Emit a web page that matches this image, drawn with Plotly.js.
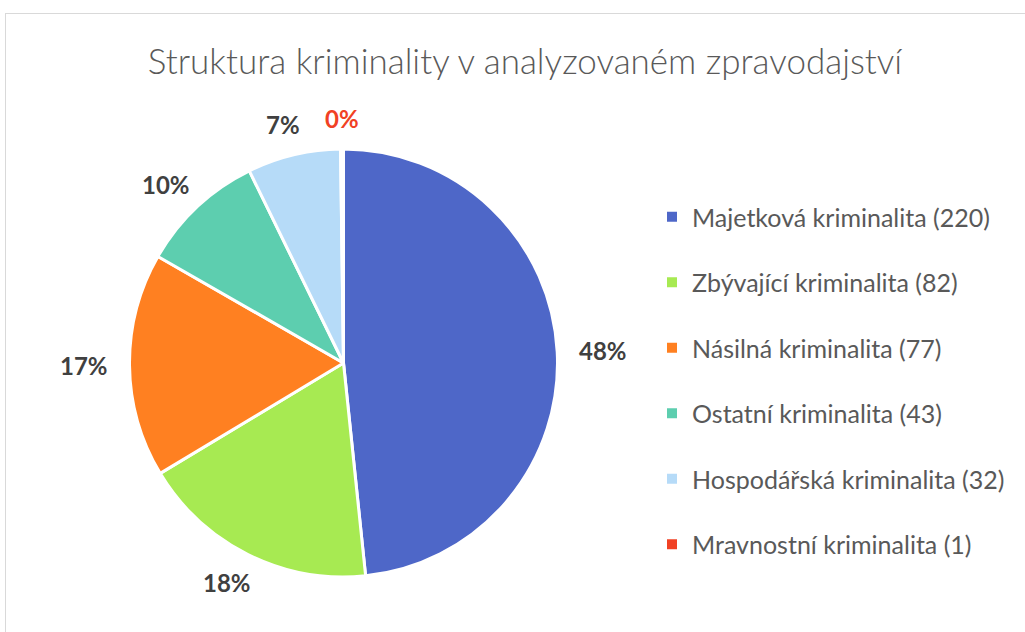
<!DOCTYPE html>
<html>
<head>
<meta charset="utf-8">
<script src="https://cdn.plot.ly/plotly-3.0.1.min.js"></script>
<style>
  html, body { margin: 0; padding: 0; background: #ffffff; overflow: hidden; }
  #frame { position: absolute; left: 5px; top: 13px; width: 1100px; height: 700px; border: 1px solid #d9d9d9; box-sizing: border-box; }
  #chart { position: absolute; left: 0; top: 0; width: 1025px; height: 632px; }
</style>
</head>
<body>
<div id="frame"></div>
<div id="chart"></div>
<script>
const chartTitle = "Struktura kriminality v analyzovaném zpravodajství";
const labels = ["Majetková kriminalita", "Zbývající kriminalita", "Násilná kriminalita", "Ostatní kriminalita", "Hospodářská kriminalita", "Mravnostní kriminalita"];
const values = [220, 82, 77, 43, 32, 1];
const percentLabels = ["48%", "18%", "17%", "10%", "7%", "0%"];
const colors = ["#4E67C8", "#A7EA52", "#FF8021", "#5DCEAF", "#B6DBF8", "#F14124"];
const labelColors = ["#404040", "#404040", "#404040", "#404040", "#404040", "#F14124"];

const W = 1025, H = 632;
const FONT = "Lato, 'Open Sans', sans-serif";
const dom = { x: [129.5 / W, 557.5 / W], y: [1 - 577 / H, 1 - 149 / H] };

const pie = {
  type: "pie",
  labels: labels,
  values: values,
  text: percentLabels,
  sort: false,
  direction: "clockwise",
  rotation: 0,
  marker: { colors: colors, line: { color: "#ffffff", width: 3 } },
  textinfo: "none",
  hoverinfo: "label+value+text",
  showlegend: false,
  domain: dom
};

// outside-end data labels, placed from the slice mid-angles
const total = values.reduce((a, b) => a + b, 0);
const cx = (dom.x[0] + dom.x[1]) / 2 * W;
const cy = (1 - (dom.y[0] + dom.y[1]) / 2) * H;
const R = (dom.x[1] - dom.x[0]) * W / 2;
const gap = 20, halfW = 26, halfH = 11;
let cum = 0;
const annotations = values.map((v, i) => {
  const mid = (cum + v / 2) / total * 2 * Math.PI;
  cum += v;
  const dx = Math.sin(mid), dy = Math.cos(mid); // dy: upward
  const px = cx + dx * (R + gap);
  const py = cy - dy * (R + gap);
  return {
    x: px / W, y: 1 - py / H, xref: "paper", yref: "paper",
    xanchor: "center", yanchor: "middle",
    xshift: dx * halfW, yshift: dy * halfH,
    text: percentLabels[i], showarrow: false,
    font: { family: FONT, size: 24, color: labelColors[i], weight: 700 }
  };
});

const legendTraces = labels.map((lab, i) => ({
  type: "scatter",
  mode: "markers",
  x: [null],
  y: [null],
  name: lab + " (" + values[i] + ")",
  legendgroup: "g" + i,
  marker: { symbol: "square", size: 10, color: colors[i] },
  hoverinfo: "skip"
}));

const layout = {
  width: W,
  height: H,
  margin: { l: 0, r: 0, t: 0, b: 0 },
  paper_bgcolor: "rgba(0,0,0,0)",
  plot_bgcolor: "rgba(0,0,0,0)",
  title: {
    text: chartTitle,
    font: { family: FONT, size: 35, color: "#595959", weight: 300 },
    x: 525 / W, xanchor: "center", xref: "container",
    y: 1 - 62 / H, yanchor: "middle", yref: "container"
  },
  xaxis: { visible: false },
  yaxis: { visible: false },
  annotations: annotations,
  showlegend: true,
  legend: {
    x: 652 / W, xanchor: "left",
    y: 1 - 194 / H, yanchor: "top",
    font: { family: FONT, size: 25, color: "#595959" },
    tracegroupgap: 30,
    bgcolor: "rgba(0,0,0,0)"
  }
};

Plotly.newPlot("chart", [pie].concat(legendTraces), layout, { displayModeBar: false, staticPlot: true });
</script>
</body>
</html>
